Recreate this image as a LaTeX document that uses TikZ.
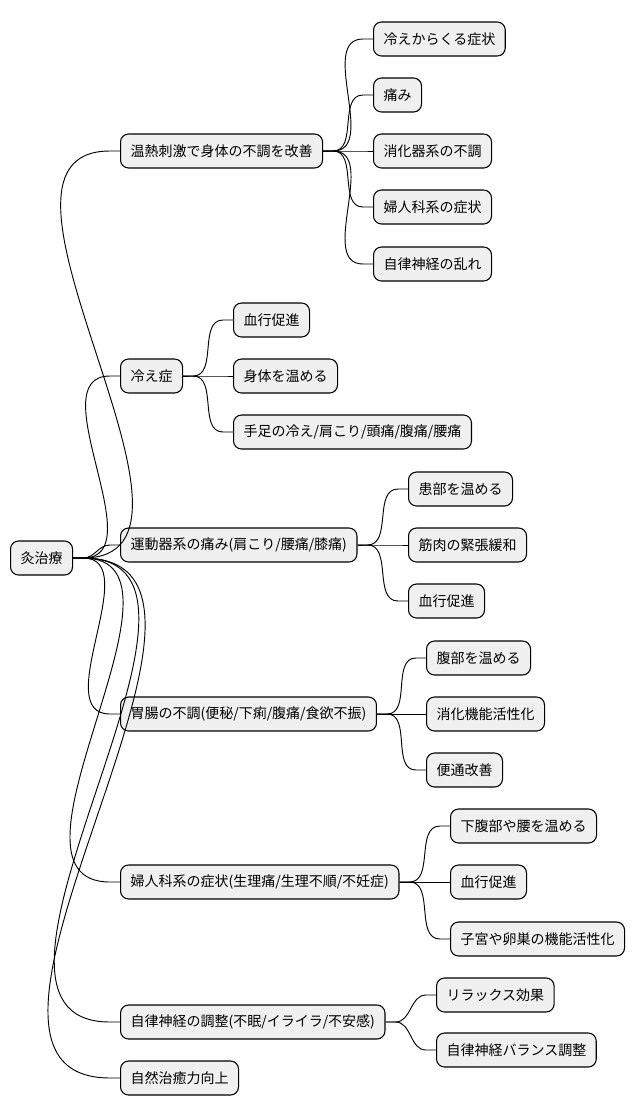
\documentclass[tikz,border=0pt]{standalone}
\usepackage{fontspec}
\setmainfont{Noto Sans CJK JP}
\usetikzlibrary{calc}
\begin{document}
\begin{tikzpicture}[x=0.75pt,y=-0.75pt,
  box/.style={draw=black,fill=black!6,rounded corners=6pt,line width=0.8pt,anchor=west,
    minimum height=25.5pt,inner xsep=7.5pt,font=\fontsize{10.5}{12}\selectfont},
  link/.style={line width=0.7pt}]
\useasboundingbox (0,0) rectangle (635,1118);
\node[box] (r) at (10,558) {灸治療};
\node[box] (a) at (120,151) {温熱刺激で身体の不調を改善};
\node[box] (b) at (120,376) {冷え症};
\node[box] (c) at (120,545) {運動器系の痛み(肩こり/腰痛/膝痛)};
\node[box] (d) at (120,714) {胃腸の不調(便秘/下痢/腹痛/食欲不振)};
\node[box] (e) at (120,882) {婦人科系の症状(生理痛/生理不順/不妊症)};
\node[box] (f) at (120,1022) {自律神経の調整(不眠/イライラ/不安感)};
\node[box] (g) at (120,1078) {自然治癒力向上};
\node[box] (a1) at (373,39) {冷えからくる症状};
\node[box] (a2) at (373,95) {痛み};
\node[box] (a3) at (373,151) {消化器系の不調};
\node[box] (a4) at (373,207) {婦人科系の症状};
\node[box] (a5) at (373,264) {自律神経の乱れ};
\node[box] (b1) at (233,320) {血行促進};
\node[box] (b2) at (233,376) {身体を温める};
\node[box] (b3) at (233,432) {手足の冷え/肩こり/頭痛/腹痛/腰痛};
\node[box] (c1) at (408,489) {患部を温める};
\node[box] (c2) at (408,545) {筋肉の緊張緩和};
\node[box] (c3) at (408,601) {血行促進};
\node[box] (d1) at (426,658) {腹部を温める};
\node[box] (d2) at (426,714) {消化機能活性化};
\node[box] (d3) at (426,770) {便通改善};
\node[box] (e1) at (450,826) {下腹部や腰を温める};
\node[box] (e2) at (450,882) {血行促進};
\node[box] (e3) at (450,939) {子宮や卵巣の機能活性化};
\node[box] (f1) at (436,995) {リラックス効果};
\node[box] (f2) at (436,1050) {自律神経バランス調整};
\foreach \p/\cs in {r/{a,b,c,d,e,f,g},a/{a1,a2,a3,a4,a5},b/{b1,b2,b3},c/{c1,c2,c3},d/{d1,d2,d3},e/{e1,e2,e3},f/{f1,f2}}{
  \foreach \c in \cs {
    \draw[link] (\p.east) -- ++(10,0) to[out=0,in=180] ($(\c.west)+(-10,0)$) -- (\c.west);
  }
}
\end{tikzpicture}
\end{document}
